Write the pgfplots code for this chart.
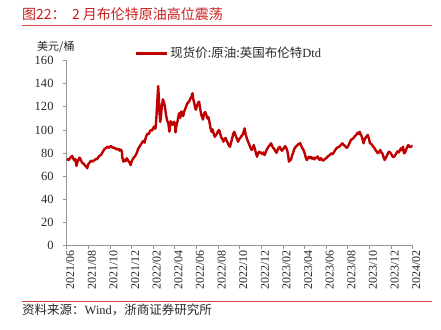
\documentclass[border=0pt]{standalone}
\usepackage{fontspec}
\setmainfont{Liberation Serif}
\newfontfamily\cjk{Noto Sans CJK SC}
\usepackage{pgfplots}
\pgfplotsset{compat=1.18}
\definecolor{myred}{RGB}{192,0,0}
\definecolor{titlered}{RGB}{200,30,30}
\definecolor{rulered}{RGB}{210,70,70}
\definecolor{axisgray}{RGB}{150,150,150}
\definecolor{txt}{RGB}{40,40,40}
\begin{document}
\begin{tikzpicture}[x=1bp,y=1bp]
\path[use as bounding box] (0,0) rectangle (441,329);
\draw[rulered, line width=0.9bp] (22,304) -- (432,304);
\draw[rulered, line width=0.9bp] (22,28) -- (432,28);
\node[anchor=base west, inner sep=0, text=titlered, font=\cjk\fontsize{14bp}{15bp}\selectfont] at (22,310) {图22：\ \ 2 月布伦特原油高位震荡};
\node[anchor=base west, inner sep=0, text=txt, font=\cjk\fontsize{11bp}{12bp}\selectfont] at (37,279) {美元/桶};
\node[anchor=base west, inner sep=0, text=txt, font=\fontsize{12.5bp}{13bp}\selectfont] at (22,15) {{\cjk 资料来源：}Wind{\cjk ，浙商证券研究所}};
\begin{axis}[
  at={(66.7bp,83.7bp)}, anchor=south west,
  scale only axis, width=346bp, height=184.6bp,
  xmin=0, xmax=32, ymin=0, ymax=160,
  axis x line*=bottom, axis y line*=left,
  axis line style={axisgray, line width=0.8bp},
  tick style={axisgray, line width=0.8bp},
  tick align=outside, major tick length=4bp,
  xtick={0,2,...,32},
  xticklabels={2021/06,2021/08,2021/10,2021/12,2022/02,2022/04,2022/06,2022/08,2022/10,2022/12,2023/02,2023/04,2023/06,2023/08,2023/10,2023/12,2024/02},
  xticklabel style={rotate=90, anchor=east, inner sep=1bp, yshift=-3.5bp, text=txt, font=\fontsize{12bp}{12bp}\selectfont},
  ytick={0,20,...,160},
  yticklabel style={text=txt, font=\fontsize{12.5bp}{12bp}\selectfont, inner sep=1bp, xshift=-8bp},
  /pgf/number format/assume math mode=true,
  legend style={at={(0.197,1.04)}, anchor=west, draw=none, fill=none, inner sep=0pt,
    font=\cjk\fontsize{12.5bp}{12.5bp}\selectfont, text=txt},
  legend image code/.code={\draw[myred, line width=2.4bp] (0bp,0bp) -- (31bp,0bp);},
  legend cell align=left,
]
\addplot[myred, line width=2.4bp, line join=round] coordinates {
(0.0,75.0)(0.1,74.2)(0.2,74.0)(0.3,75.5)(0.4,76.5)(0.5,77.5)(0.6,75.5)(0.7,73.5)(0.8,74.8)(0.9,68.8)
(1.0,72.5)(1.1,74.5)(1.2,76.0)(1.3,74.0)(1.4,72.0)(1.5,71.0)(1.6,70.5)(1.7,69.0)(1.8,68.5)(1.9,66.8)
(2.0,70.5)(2.1,71.5)(2.2,72.8)(2.3,73.3)(2.4,72.5)(2.5,73.5)(2.6,74.0)(2.7,74.8)(2.8,74.5)(2.9,76.0)
(3.0,77.2)(3.1,78.0)(3.2,78.5)(3.3,80.5)(3.4,82.0)(3.5,83.5)(3.6,84.0)(3.7,85.0)(3.8,85.5)(3.9,84.5)
(4.0,85.5)(4.1,86.0)(4.2,85.0)(4.3,84.5)(4.4,84.8)(4.5,83.5)(4.6,84.0)(4.7,82.8)(4.8,83.5)(4.9,82.0)
(5.0,83.0)(5.1,81.5)(5.15,76.0)(5.25,72.5)(5.35,74.0)(5.45,73.0)(5.55,75.5)(5.65,74.0)(5.75,72.5)(5.85,71.0)(5.92,69.5)
(6.0,72.5)(6.1,74.5)(6.2,76.0)(6.3,77.0)(6.4,78.5)(6.5,80.5)(6.6,83.5)(6.7,85.0)(6.8,86.5)(6.9,88.0)
(7.0,89.5)(7.1,90.5)(7.2,89.0)(7.3,93.0)(7.4,95.5)(7.5,97.0)(7.6,96.5)(7.7,99.0)(7.8,100.0)(7.9,99.5)
(8.0,101.5)(8.1,103.0)(8.2,101.0)(8.25,105.0)(8.3,112.0)(8.35,120.0)(8.4,128.0)(8.46,138.0)(8.52,128.0)(8.58,115.0)(8.65,107.0)(8.72,112.0)(8.8,121.0)(8.9,126.5)
(9.0,124.0)(9.1,119.0)(9.2,112.0)(9.3,108.0)(9.4,105.5)(9.5,98.5)(9.55,102.0)(9.6,107.5)(9.7,106.0)(9.8,104.5)(9.9,107.0)
(10.0,106.0)(10.06,97.8)(10.15,104.0)(10.25,107.5)(10.35,112.5)(10.4,114.5)(10.5,110.5)(10.6,116.0)(10.7,115.0)(10.77,112.0)(10.85,115.5)(10.95,118.0)
(11.05,120.5)(11.15,123.0)(11.25,124.0)(11.35,125.0)(11.45,127.5)(11.55,129.0)(11.63,131.8)(11.7,127.0)(11.8,123.0)(11.9,118.5)(11.95,117.5)
(12.05,121.0)(12.15,123.5)(12.25,124.5)(12.35,118.0)(12.45,113.0)(12.55,110.5)(12.6,109.0)(12.7,114.0)(12.8,115.5)(12.9,113.5)
(13.0,110.0)(13.1,111.0)(13.2,107.0)(13.3,101.5)(13.4,98.4)(13.5,100.5)(13.6,96.5)(13.7,94.0)(13.8,95.5)(13.9,97.0)
(14.0,99.0)(14.1,100.0)(14.2,96.5)(14.3,93.5)(14.4,92.0)(14.5,89.8)(14.6,92.5)(14.7,93.0)(14.8,90.5)(14.9,88.5)
(15.0,86.5)(15.1,85.4)(15.2,89.0)(15.3,92.5)(15.4,96.5)(15.5,98.4)(15.6,95.5)(15.7,93.5)(15.8,91.0)(15.85,89.8)(15.95,92.0)
(16.05,93.0)(16.15,94.5)(16.25,95.5)(16.35,98.0)(16.46,101.4)(16.55,96.0)(16.65,93.0)(16.77,89.8)(16.9,87.0)
(17.0,84.5)(17.1,82.6)(17.2,84.0)(17.3,86.9)(17.4,83.5)(17.5,80.0)(17.6,76.8)(17.7,79.5)(17.8,81.1)(17.9,80.0)
(18.0,80.5)(18.1,79.0)(18.2,80.5)(18.3,78.2)(18.4,80.5)(18.5,83.0)(18.6,84.5)(18.7,86.0)(18.8,87.0)(18.9,88.4)
(19.0,86.0)(19.1,84.5)(19.2,83.5)(19.3,81.5)(19.4,80.2)(19.5,82.5)(19.6,84.5)(19.7,85.4)(19.8,83.5)(19.9,82.0)
(20.0,83.0)(20.1,84.5)(20.2,86.0)(20.3,84.5)(20.4,82.0)(20.5,77.0)(20.55,72.5)(20.65,73.5)(20.75,74.5)(20.85,78.0)(20.95,80.5)
(21.05,83.5)(21.15,85.0)(21.3,86.5)(21.45,87.8)(21.6,88.4)(21.7,86.0)(21.8,84.0)(21.9,82.6)
(22.0,80.0)(22.1,76.5)(22.2,73.9)(22.3,75.5)(22.4,76.8)(22.5,75.5)(22.6,76.5)(22.7,75.0)(22.8,76.0)(22.9,74.5)
(23.0,76.0)(23.1,75.5)(23.2,77.0)(23.3,75.0)(23.4,74.0)(23.5,75.5)(23.6,74.5)(23.7,73.3)(23.8,74.0)(23.9,75.0)
(24.0,75.4)(24.1,76.5)(24.2,77.5)(24.3,78.0)(24.4,79.0)(24.5,79.7)(24.6,79.0)(24.7,80.5)(24.8,82.0)(24.9,83.5)
(25.0,84.5)(25.1,85.0)(25.2,85.4)(25.3,86.5)(25.4,87.5)(25.5,88.4)(25.6,87.0)(25.7,86.5)(25.8,85.4)(25.9,84.5)
(26.0,85.5)(26.1,87.5)(26.2,89.5)(26.3,91.5)(26.4,92.0)(26.5,92.7)(26.6,94.0)(26.7,95.0)(26.8,96.0)(26.9,97.6)
(27.0,96.5)(27.1,98.4)(27.2,96.0)(27.3,94.0)(27.4,90.5)(27.45,88.4)(27.55,91.5)(27.65,93.5)(27.75,94.5)(27.85,95.6)(27.95,92.5)
(28.05,88.4)(28.15,88.0)(28.25,87.0)(28.35,85.4)(28.45,84.5)(28.55,82.6)(28.65,81.5)(28.75,80.0)(28.8,79.7)(28.9,81.1)
(29.0,82.5)(29.1,80.5)(29.2,79.5)(29.3,76.5)(29.4,74.0)(29.5,75.5)(29.6,77.5)(29.7,79.5)(29.8,81.1)(29.9,80.5)
(30.0,79.5)(30.1,77.5)(30.2,76.3)(30.3,77.0)(30.4,78.5)(30.5,80.0)(30.6,81.5)(30.7,80.5)(30.8,82.0)(30.9,84.0)
(31.0,82.5)(31.1,85.4)(31.2,79.7)(31.3,80.5)(31.4,83.0)(31.5,85.4)(31.6,86.9)(31.7,85.5)(31.8,85.0)(31.9,86.0)(32.0,86.0)
};
\addlegendentry{现货价:原油:英国布伦特{\rmfamily Dtd}}
\end{axis}
\end{tikzpicture}
\end{document}
